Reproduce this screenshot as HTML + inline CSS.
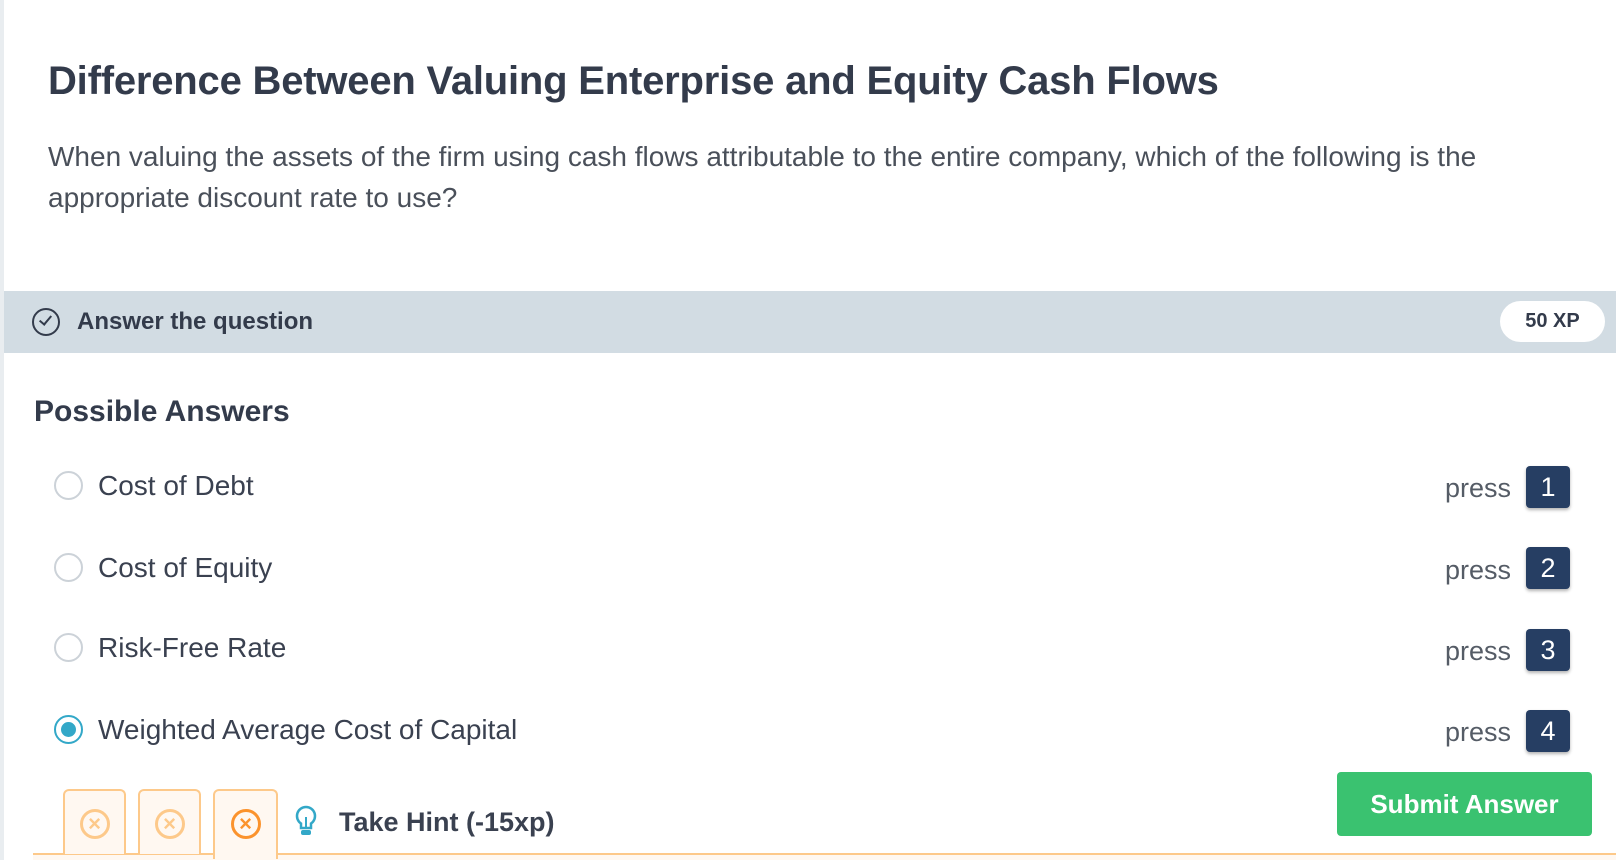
<!DOCTYPE html>
<html><head><meta charset="utf-8"><style>
*{margin:0;padding:0;box-sizing:border-box}
body{width:1616px;height:860px;background:#fff;font-family:"Liberation Sans",sans-serif;color:#3a4150;position:relative;overflow:hidden}
.a{position:absolute;white-space:nowrap}
.radio{position:absolute;width:29px;height:29px;border-radius:50%;border:2px solid #ccd2d8;background:#fff}
.lbl{position:absolute;font-size:28px;color:#3a4150;line-height:34px}
.press{position:absolute;font-size:27px;color:#555c66;line-height:34px;right:105px}
.key{position:absolute;left:1526px;width:44px;height:42px;background:#263e63;border-radius:4px;color:#fff;font-size:27px;text-align:center;line-height:42px;box-shadow:0 2px 3px rgba(0,0,0,.3)}
.tab{position:absolute;top:789px;height:65px;border:2px solid #fdc98a;border-bottom:none;border-radius:6px 6px 0 0;background:#fff8f1}
.x{position:absolute;left:50%;top:18px;transform:translateX(-50%);width:30px;height:30px;border-radius:50%;border:3px solid #fdc98a;color:#fdc98a;font-size:22px;font-weight:bold;text-align:center;line-height:23px}
</style></head><body>
<div class="a" style="left:0;top:0;width:4px;height:860px;background:#e9edf0"></div>
<div class="a" style="left:48px;top:57px;font-size:40px;font-weight:bold;color:#333b4b;line-height:48px;letter-spacing:-0.2px">Difference Between Valuing Enterprise and Equity Cash Flows</div>
<div class="a" style="left:48px;top:136px;font-size:28px;line-height:41px;color:#4a505a;white-space:normal;width:1540px">When valuing the assets of the firm using cash flows attributable to the entire company, which of the following is the<br>appropriate discount rate to use?</div>
<div class="a" style="left:4px;top:291px;width:1612px;height:62px;background:#d2dce3"></div>
<div class="a" style="left:32px;top:308px;width:28px;height:28px;border-radius:50%;border:2.5px solid #333b4b"><div style="position:absolute;left:8px;top:3px;width:7px;height:12px;border-right:2.5px solid #333b4b;border-bottom:2.5px solid #333b4b;transform:rotate(40deg)"></div></div>
<div class="a" style="left:77px;top:306px;font-size:24px;font-weight:bold;color:#333b4b;line-height:32px">Answer the question</div>
<div class="a" style="left:1500px;top:301px;width:105px;height:41px;background:#fff;border-radius:21px;font-size:20px;font-weight:bold;color:#333b4b;text-align:center;line-height:41px">50 XP</div>
<div class="a" style="left:34px;top:393px;font-size:30px;font-weight:bold;color:#333b4b;line-height:38px">Possible Answers</div>

<div class="radio" style="left:54px;top:471px"></div>
<div class="lbl" style="left:98px;top:469px">Cost of Debt</div>
<div class="press" style="top:471px">press</div>
<div class="key" style="top:466px">1</div>

<div class="radio" style="left:54px;top:553px"></div>
<div class="lbl" style="left:98px;top:551px">Cost of Equity</div>
<div class="press" style="top:553px">press</div>
<div class="key" style="top:547px">2</div>

<div class="radio" style="left:54px;top:633px"></div>
<div class="lbl" style="left:98px;top:631px">Risk-Free Rate</div>
<div class="press" style="top:634px">press</div>
<div class="key" style="top:629px">3</div>

<div class="radio" style="left:54px;top:715px;border-color:#33a8c8"><div style="position:absolute;left:5px;top:5px;width:15px;height:15px;border-radius:50%;background:#33a8c8"></div></div>
<div class="lbl" style="left:98px;top:713px">Weighted Average Cost of Capital</div>
<div class="press" style="top:715px">press</div>
<div class="key" style="top:710px">4</div>

<div class="a" style="left:33px;top:853px;width:1583px;height:7px;background:#fff8f1;border-top:2px solid #fdc98a"></div>
<div class="tab" style="left:63px;width:63px"><div class="x">×</div></div>
<div class="tab" style="left:138px;width:63px"><div class="x">×</div></div>
<div class="tab" style="left:213px;width:65px;height:70px;background:#fff8f1"><div class="x" style="border-color:#fb932d;color:#fb932d">×</div></div>
<svg class="a" style="left:294px;top:805px" width="24" height="32" viewBox="0 0 24 32"><path d="M12 2a9 9 0 0 0-5 16.5V23h10v-4.5A9 9 0 0 0 12 2z" fill="none" stroke="#33a8c8" stroke-width="2.5"/><line x1="12" y1="12" x2="12" y2="22" stroke="#33a8c8" stroke-width="2"/><rect x="7" y="25" width="10" height="5" rx="2" fill="#33a8c8"/></svg>
<div class="a" style="left:339px;top:805px;font-size:27px;font-weight:bold;color:#3a4150;line-height:34px">Take Hint (-15xp)</div>
<div class="a" style="left:1337px;top:772px;width:255px;height:64px;background:#3ac270;border-radius:4px;color:#fff;font-size:26px;font-weight:bold;text-align:center;line-height:64px">Submit Answer</div>
</body></html>
